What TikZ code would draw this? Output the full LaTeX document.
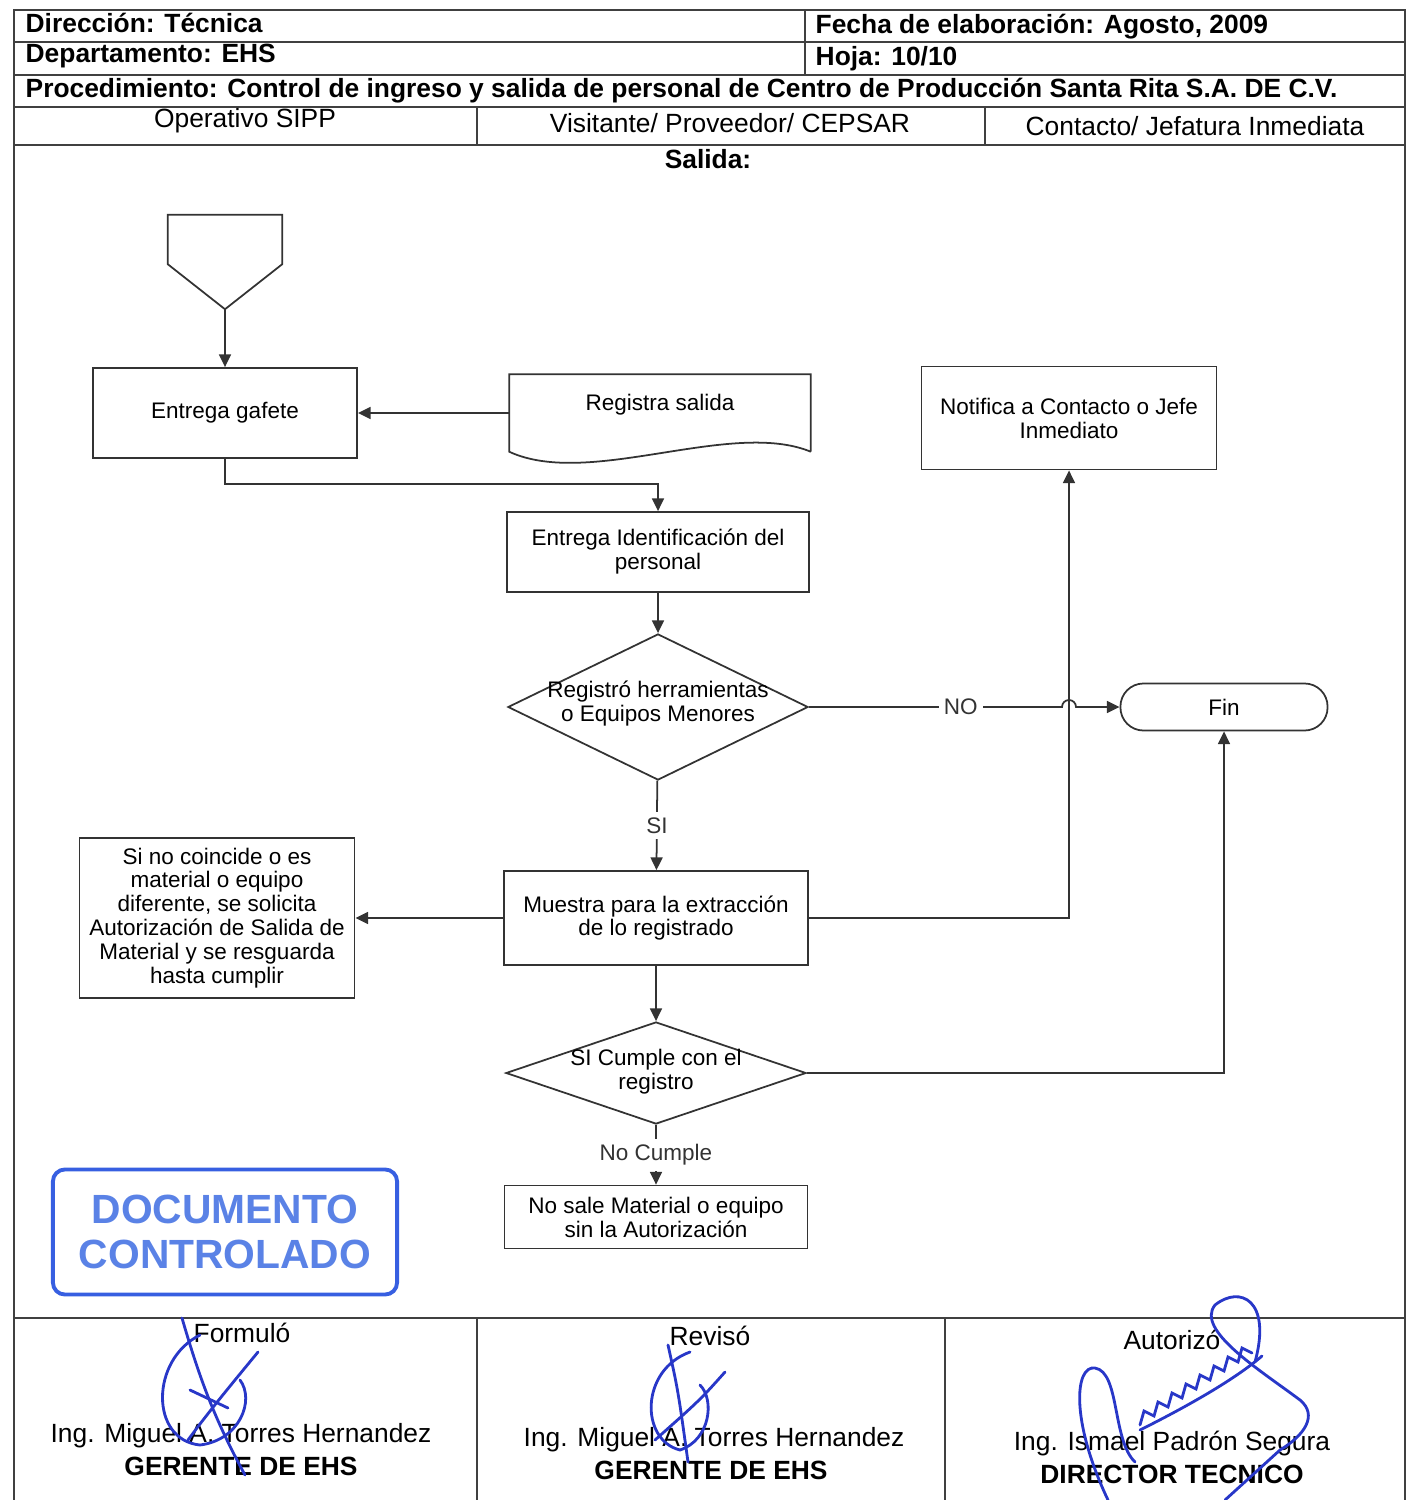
\documentclass[tikz,border=0pt]{standalone}
\usepackage{fontspec}
\setmainfont{Liberation Sans}
\usetikzlibrary{shapes.geometric,positioning,arrows.meta}
\tikzset{>={Triangle[length=3.6pt,width=3.4pt]}}
\colorlet{background}{white}
\colorlet{penColor}{black!80}
\colorlet{frameColor}{black!75}
\definecolor{stampColor}{RGB}{55,95,225}
\definecolor{stampText}{RGB}{90,130,230}
\definecolor{inkColor}{RGB}{40,55,200}
\newcommand{\flowtext}{\fontsize{6.4}{6.8}\selectfont}
\newcommand{\headtext}{\fontsize{7.5}{9}\selectfont}
\tikzset{
  frame/.style={frameColor, line width=0.8pt},
  caja/.style={draw=penColor, line width=0.5pt, rectangle, align=center, font=\flowtext, inner sep=0pt},
  rombo/.style={draw=penColor, line width=0.5pt, diamond, inner sep=0pt},
  texto/.style={align=center, font=\flowtext, inner sep=0pt},
  etiqueta/.style={fill=background, font=\flowtext, inner sep=1.5pt},
  flecha/.style={->, penColor, line width=0.5pt},
  titulo/.style={anchor=west, font=\headtext\bfseries, inner sep=0pt},
  columna/.style={font=\headtext, inner sep=0pt},
  firma/.style={inkColor, line width=0.8pt, line cap=round},
}

\begin{document}
\begin{tikzpicture}[x=0.01cm,y=-0.01cm]
\useasboundingbox (0,0) rectangle (1408,1500);
% encabezado
\draw[frame] (14,1500) -- (14,10) -- (1405,10) -- (1405,1500);
\draw[frame] (14,42) -- (1405,42);
\draw[frame] (14,75) -- (1405,75);
\draw[frame] (14,107) -- (1405,107);
\draw[frame] (14,145) -- (1405,145);
\draw[frame] (805,10) -- (805,75);
\draw[frame] (477,107) -- (477,145);
\draw[frame] (985,107) -- (985,145);
\node[titulo] (dir) at (25,23) {Dirección: Técnica};
\node[titulo] (fecha) at (815,27) {Fecha de elaboración: Agosto, 2009};
\node[titulo] (depto) at (25,56) {Departamento: EHS};
\node[titulo] (hoja) at (815,59) {Hoja: 10/10};
\node[titulo] (proc) at (25,91) {Procedimiento: Control de ingreso y salida de personal de Centro de Producción Santa Rita S.A. DE C.V.};
\node[columna] (col1) at (245,121) {Operativo SIPP};
\node[columna] (col2) at (730,123) {Visitante/ Proveedor/ CEPSAR};
\node[columna] (col3) at (1195,126) {Contacto/ Jefatura Inmediata};
\node[titulo, anchor=center] (salida) at (708,159) {Salida:};

% diagrama
\node[minimum width=1.13cm, minimum height=0.93cm, inner sep=0pt] (con) at (225,262) {};
\draw[penColor, line width=0.5pt] (con.north west) -- (con.north east) -- ([yshift=0.45cm]con.south east)
  -- (con.south) -- ([yshift=0.45cm]con.south west) -- cycle;
\node[caja, minimum width=2.64cm, minimum height=0.9cm] (gaf) at (225,413) {Entrega gafete};
\node[texto, minimum width=3.0cm, minimum height=0.76cm] (reg) at (660,413) {};
\draw[penColor, line width=0.5pt] (reg.south east) -- (reg.north east) -- (reg.north west) -- (reg.south west)
  .. controls ([shift={(0.8cm,-0.37cm)}]reg.south west) and ([shift={(-0.8cm,0.33cm)}]reg.south east) .. (reg.south east);
\node[texto] at (660,405) {Registra salida};
\node[caja, minimum width=2.95cm, minimum height=1.03cm] (noti) at (1069,418) {Notifica a Contacto o Jefe\\Inmediato};
\node[caja, minimum width=3.02cm, minimum height=0.8cm] (ident) at (658,552) {Entrega Identificación del\\personal};
\node[rombo, minimum width=3.0cm, minimum height=1.46cm] (d1) at (658,707) {};
\node[texto] at (658,704) {Registró herramientas\\o Equipos Menores};
\node[caja, minimum width=2.07cm, minimum height=0.47cm, rounded corners=0.23cm] (fin) at (1224,707) {Fin};
\node[caja, minimum width=3.04cm, minimum height=0.94cm] (mue) at (656,918) {Muestra para la extracción\\de lo registrado};
\node[caja, minimum width=2.75cm, minimum height=1.6cm] (sino) at (217,918) {Si no coincide o es\\material o equipo\\diferente, se solicita\\Autorización de Salida de\\Material y se resguarda\\hasta cumplir};
\node[rombo, minimum width=3.0cm, minimum height=1.02cm] (d2) at (656,1073) {};
\node[texto] at (656,1072) {SI Cumple con el\\registro};
\node[caja, minimum width=3.03cm, minimum height=0.63cm] (nosale) at (656,1217) {No sale Material o equipo\\sin la Autorización};

\draw[flecha] (con.south) -- (gaf.north);
\draw[flecha] (reg.west) -- (gaf.east);
\draw[flecha] (gaf.south) -- ++(0,25) -| (ident.north);
\draw[flecha] (ident) -- (d1);
\draw[flecha] (d1.east) -- node[etiqueta, pos=0.6] {NO} ([xshift=-0.07cm]noti.south |- d1.east)
  arc[start angle=180, end angle=0, radius=0.07cm] -- (fin.west);
\draw[flecha] (d1) -- node[etiqueta] {SI} (mue);
\draw[flecha] (mue) -- (sino);
\draw[flecha] (mue.east) -| (noti.south);
\draw[flecha] (mue) -- (d2);
\draw[flecha] (d2.east) -| (fin.south);
\draw[flecha] (d2) -- node[etiqueta] {No Cumple} (nosale);

% sello
\node[draw=stampColor, line width=1.1pt, rounded corners=0.12cm, minimum width=3.44cm, minimum height=1.25cm,
  text=stampText, font=\fontsize{11.6}{12.8}\selectfont\bfseries, align=center] (sello) at (225,1232) {DOCUMENTO\\CONTROLADO};

% firmas
\draw[frame] (14,1318) -- (1405,1318);
\draw[frame] (477,1318) -- (477,1500);
\draw[frame] (945,1318) -- (945,1500);
\node[columna] (formulo) at (242,1333) {Formuló};
\node[columna] (reviso) at (710,1336) {Revisó};
\node[columna] (autorizo) at (1172,1340) {Autorizó};
\node[columna] (nom1) at (241,1436) {Ing. Miguel A. Torres Hernandez};
\node[columna, font=\headtext\bfseries] (cargo1) at (241,1466) {GERENTE DE EHS};
\node[columna] (nom2) at (714,1440) {Ing. Miguel A. Torres Hernandez};
\node[columna, font=\headtext\bfseries] (cargo2) at (711,1470) {GERENTE DE EHS};
\node[columna] (nom3) at (1172,1444) {Ing. Ismael Padrón Segura};
\node[columna, font=\headtext\bfseries] (cargo3) at (1172,1474) {DIRECTOR TECNICO};

\draw[firma] (182,1318) .. controls (200,1380) and (215,1420) .. (245,1475);
\draw[firma] (200,1335) .. controls (150,1360) and (150,1440) .. (200,1445) .. controls (240,1440) and (255,1400) .. (240,1380);
\draw[firma] (258,1352) .. controls (235,1380) and (210,1410) .. (188,1440);
\draw[firma] (190,1390) -- (228,1408);
\draw[firma] (668,1345) .. controls (678,1390) .. (688,1462);
\draw[firma] (690,1352) .. controls (640,1370) and (640,1440) .. (680,1450) .. controls (710,1440) and (715,1400) .. (700,1385);
\draw[firma] (725,1372) .. controls (700,1400) .. (655,1440);
\draw[firma] (1108,1500) .. controls (1070,1420) and (1075,1365) .. (1095,1368) .. controls (1120,1372) and (1112,1440) .. (1135,1462);
\draw[firma] (1140,1425) \foreach \i in {1,...,8} { -- ++(4,-14) -- ++(10,5) } ;
\draw[firma] (1140,1430) .. controls (1200,1400) and (1240,1375) .. (1262,1356);
\draw[firma] (1255,1362) .. controls (1272,1300) and (1240,1285) .. (1215,1305) .. controls (1195,1330) and (1260,1370) .. (1300,1400)
  .. controls (1318,1415) and (1305,1435) .. (1280,1450) -- (1225,1500);
\end{tikzpicture}
\end{document}
